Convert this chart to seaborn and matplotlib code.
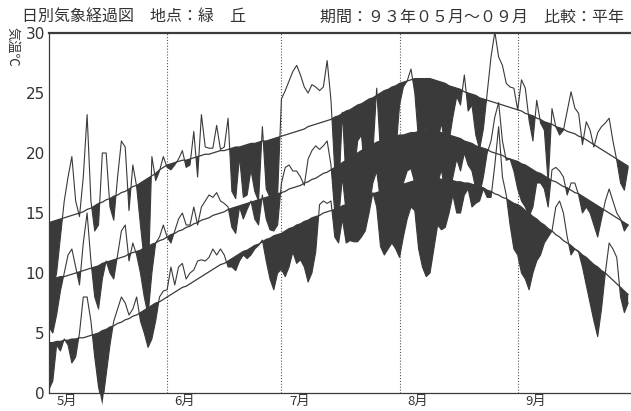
import numpy as np
import pandas as pd
import matplotlib
matplotlib.use('Agg')
import matplotlib.pyplot as plt
import seaborn as sns

# daily values, 1993-05-01 .. 1993-09-30 (153 days)
tmax = [
    9.5, 8.5, 10, 13, 16, 18, 19.7, 16, 14.7, 18, 23.2, 16, 13.5, 14, 20, 20,
    15.5, 14.4, 18, 21, 20.5, 15.2, 19, 17.2, 14, 11, 9, 19.7, 17.7, 18.5, 19.7,  # May
    18.8, 18.6, 19, 19.5, 20.2, 18.8, 19, 21.8, 18, 23.2, 20.5, 20.4, 20.4, 22.3, 20.3,
    20.5, 22.9, 16.8, 16.2, 19.7, 16.3, 16.5, 18.6, 16.8, 16, 22.2, 17, 16.3, 15.8, 16.5,  # Jun
    24.5, 25.2, 26, 26.8, 27.3, 26.5, 25.5, 25, 25.7, 25.5, 25.2, 25.5, 27.7, 24.4, 18.5, 16.5,
    23.4, 17.5, 17, 18, 21, 21.5, 18, 19, 20, 25.4, 20, 18.5, 18, 19, 20,  # Jul
    24, 25.5, 26, 27, 25, 21, 20, 22.2, 20.5, 20, 21, 22.5, 20.5, 21, 23, 24.7,
    24, 26.5, 23.5, 24, 21.5, 20.3, 22, 25, 28, 30.1, 28, 27.3, 25.8, 25.5, 25.4,  # Aug
    23.6, 26.1, 25.4, 22.7, 21, 24.4, 22.5, 21.9, 17.5, 23.7, 22.2, 21.5, 21.9, 23.5, 25.1,
    23.75, 23.3, 20.7, 22.6, 21.9, 20.5, 21.7, 22.2, 22.5, 22.9, 21, 19.4, 17.5, 16.9, 18.8,  # Sep
]
tmean = [
    5.5, 5, 6.5, 8.5, 10, 11.5, 12, 10.5, 9, 12.5, 15, 11, 8, 7, 9.5, 11,
    10, 9.5, 11.5, 13.5, 14, 11, 12.5, 11.5, 10, 8, 6.5, 10, 12.5, 13, 14,
    13, 12.5, 13.5, 14.5, 15, 14, 14, 15.5, 14, 15.5, 16, 16.5, 16.3, 16.7, 16,
    15.8, 15.5, 13.8, 13.3, 15.5, 14.5, 15.3, 16, 14.5, 14, 16.5, 14.5, 13.6, 13.5, 14,
    17.5, 18.8, 19, 18.5, 18.5, 18, 17.3, 19.5, 20.2, 20.6, 20.3, 20.6, 21, 19, 15, 14.5,
    18, 15, 14.5, 14.5, 15.5, 16, 15, 15.5, 17.5, 18.5, 16, 15, 14.5, 15, 15.5,
    16, 17.5, 18.5, 18.7, 17.5, 15.5, 14.5, 15, 15.5, 16, 17.5, 18.6, 16.5, 16.5, 18, 19.5,
    18.5, 20, 19, 18.5, 17, 16.5, 18, 20, 21, 23, 24.2, 21, 19.4, 19.5, 18.5,
    17, 16, 15.5, 14.7, 15.5, 17.5, 17.5, 17, 15.5, 18.6, 18.8, 18.5, 18, 16.5, 17.5,
    17.5, 16.5, 15, 15.5, 15, 14, 13, 14.5, 16, 17, 16, 15, 14.5, 13.5, 14,
]
tmin = [
    0.3, 1, 4, 3.5, 4.5, 4, 2.5, 3, 5, 8, 8, 6, 3, 0.5, -1, 1.5,
    4, 6, 7, 8, 7.5, 6.5, 7, 8, 6, 5, 3.8, 4.5, 6, 8, 8.5,
    8.6, 10.5, 9, 10.5, 10.8, 9.5, 10, 10.25, 11, 11.1, 11, 11.3, 12, 11.5, 12,
    11.5, 10.5, 10.5, 10.2, 11, 11.5, 11.2, 11.5, 12, 12.3, 12.75, 11, 9.5, 8.6, 10,
    10.3, 9.7, 10.5, 11.75, 10.8, 11.1, 10.5, 9.25, 10, 11.75, 15.7, 16, 15.8, 16, 13, 12.5,
    14.5, 12.5, 12.7, 12.6, 12.6, 13, 13.5, 15, 16.7, 15.5, 12.2, 11.5, 12, 12.5, 12,
    11.3, 13, 14.5, 15.5, 15.2, 12, 10.5, 9.7, 10, 12, 14, 13.6, 13.8, 15, 16.5, 15,
    15, 16.5, 17, 15.5, 15.8, 16, 17, 16.3, 16.3, 19, 22.2, 18, 16.5, 14, 12,
    11.5, 10, 9.5, 8.6, 10, 11, 11.5, 12.5, 13, 13.5, 15.5, 16, 15, 13, 11.5,
    12, 11.75, 10.5, 9, 7.5, 6, 4.7, 7, 10, 12.5, 12, 11.3, 8, 6.7, 7.5,
]

# normals (平年)
nmax = [
    14.2, 14.3, 14.4, 14.5, 14.6, 14.7, 14.8, 14.9, 15.0, 15.1, 15.3, 15.4, 15.6, 15.8, 15.9, 16.1,
    16.2, 16.4, 16.5, 16.7, 16.8, 17.0, 17.2, 17.3, 17.5, 17.7, 17.9, 18.1, 18.3, 18.6, 18.8,
    19.0, 19.1, 19.2, 19.3, 19.4, 19.4, 19.5, 19.6, 19.7, 19.8, 19.9, 19.9, 20.0, 20.1, 20.2,
    20.2, 20.3, 20.4, 20.5, 20.5, 20.6, 20.7, 20.8, 20.8, 20.9, 21.0, 21.0, 21.1, 21.2, 21.3,
    21.4, 21.5, 21.6, 21.7, 21.8, 21.9, 22.0, 22.2, 22.3, 22.4, 22.5, 22.6, 22.7, 22.8, 23.0, 23.1,
    23.3, 23.5, 23.6, 23.8, 24.0, 24.1, 24.3, 24.5, 24.6, 24.8, 25.0, 25.2, 25.3, 25.5, 25.6,
    25.8, 25.9, 26.0, 26.1, 26.2, 26.2, 26.2, 26.2, 26.2, 26.1, 26.0, 25.9, 25.8, 25.6, 25.5, 25.4,
    25.3, 25.1, 25.0, 24.9, 24.8, 24.6, 24.5, 24.4, 24.3, 24.2, 24.1, 24.0, 23.9, 23.8, 23.7,
    23.6, 23.5, 23.3, 23.2, 23.1, 22.9, 22.8, 22.6, 22.5, 22.4, 22.2, 22.1, 22.0, 21.8, 21.7,
    21.6, 21.4, 21.3, 21.1, 20.9, 20.7, 20.5, 20.3, 20.1, 19.9, 19.7, 19.5, 19.3, 19.1, 18.9,
]
nmean = [
    9.4, 9.5, 9.6, 9.7, 9.7, 9.8, 9.9, 10.0, 10.1, 10.2, 10.3, 10.4, 10.5, 10.6, 10.8, 10.9,
    11.0, 11.1, 11.2, 11.3, 11.4, 11.6, 11.7, 11.8, 11.9, 12.1, 12.2, 12.4, 12.5, 12.7, 12.8,
    13.0, 13.2, 13.3, 13.5, 13.6, 13.8, 13.9, 14.1, 14.2, 14.4, 14.5, 14.6, 14.8, 14.9, 15.0,
    15.1, 15.3, 15.4, 15.5, 15.6, 15.7, 15.8, 15.9, 16.0, 16.1, 16.2, 16.3, 16.4, 16.5, 16.6,
    16.7, 16.8, 17.0, 17.1, 17.2, 17.3, 17.5, 17.6, 17.8, 17.9, 18.1, 18.3, 18.4, 18.6, 18.8, 19.0,
    19.2, 19.4, 19.6, 19.8, 20.0, 20.2, 20.4, 20.6, 20.7, 20.9, 21.0, 21.1, 21.2, 21.3, 21.4,
    21.5, 21.5, 21.6, 21.7, 21.7, 21.8, 21.8, 21.8, 21.8, 21.8, 21.8, 21.7, 21.6, 21.5, 21.4, 21.3,
    21.2, 21.0, 20.9, 20.8, 20.6, 20.5, 20.4, 20.3, 20.1, 20.0, 19.9, 19.8, 19.6, 19.5, 19.4,
    19.3, 19.1, 19.0, 18.8, 18.6, 18.4, 18.3, 18.1, 17.9, 17.7, 17.6, 17.4, 17.2, 17.1, 16.9,
    16.7, 16.6, 16.4, 16.2, 16.0, 15.8, 15.6, 15.4, 15.2, 15.0, 14.8, 14.6, 14.4, 14.2, 14.0,
]
nmin = [
    4.2, 4.2, 4.3, 4.3, 4.4, 4.4, 4.5, 4.5, 4.6, 4.6, 4.7, 4.8, 4.9, 5.0, 5.2, 5.3,
    5.5, 5.6, 5.8, 5.9, 6.1, 6.2, 6.4, 6.5, 6.7, 6.9, 7.1, 7.3, 7.5, 7.6, 7.8,
    8.0, 8.2, 8.4, 8.6, 8.8, 8.9, 9.1, 9.3, 9.5, 9.7, 9.9, 10.1, 10.3, 10.5, 10.7,
    10.8, 11.0, 11.2, 11.4, 11.6, 11.8, 11.9, 12.1, 12.3, 12.4, 12.6, 12.8, 12.9, 13.1, 13.2,
    13.3, 13.5, 13.7, 13.8, 14.0, 14.1, 14.3, 14.4, 14.6, 14.7, 14.8, 15.0, 15.1, 15.2, 15.3, 15.4,
    15.6, 15.7, 15.8, 15.9, 16.1, 16.2, 16.3, 16.4, 16.6, 16.7, 16.8, 16.9, 17.0, 17.1, 17.2,
    17.3, 17.4, 17.5, 17.6, 17.7, 17.8, 17.9, 17.9, 17.9, 17.9, 17.9, 17.8, 17.8, 17.7, 17.7, 17.6,
    17.6, 17.5, 17.5, 17.4, 17.3, 17.2, 17.1, 16.9, 16.8, 16.6, 16.5, 16.3, 16.2, 16.0, 15.8,
    15.7, 15.5, 15.2, 15.0, 14.7, 14.5, 14.2, 14.0, 13.7, 13.5, 13.2, 13.0, 12.7, 12.5, 12.3,
    12.0, 11.8, 11.5, 11.3, 11.0, 10.7, 10.5, 10.2, 10.0, 9.7, 9.4, 9.1, 8.8, 8.5, 8.2,
]

month_labels = ['5月', '6月', '7月', '8月', '9月']
month_starts = [0, 31, 61, 92, 123]
yticks = [0, 5, 10, 15, 20, 25, 30]

sns.set_style('white')
plt.rcParams['font.family'] = ['Noto Sans CJK JP', 'DejaVu Sans']

ink = '#3a3a3a'
day = np.arange(len(tmax))
df = pd.DataFrame({'day': day, 'tmax': tmax, 'tmean': tmean, 'tmin': tmin,
                   'nmax': nmax, 'nmean': nmean, 'nmin': nmin})

fig = plt.figure(figsize=(6.31, 4.11), dpi=100)
ax = fig.add_axes([49 / 631, 18 / 411, 583 / 631, 360 / 411])
ax.set_xlim(0, 153)
ax.set_ylim(0, 30)

# below-normal days are filled black
for obs, nrm in [('tmax', 'nmax'), ('tmean', 'nmean'), ('tmin', 'nmin')]:
    ax.fill_between(df['day'], df[obs], df[nrm], where=df[obs] < df[nrm],
                    interpolate=True, color=ink, lw=0, clip_on=False, zorder=2)
    sns.lineplot(data=df, x='day', y=obs, color=ink, lw=0.8, ax=ax, zorder=3)
    sns.lineplot(data=df, x='day', y=nrm, color=ink, lw=0.9, ax=ax, zorder=3)

for m in month_starts[1:]:
    ax.axvline(m, color='#555555', ls=(0, (1, 1.6)), lw=0.8, zorder=1)

ax.spines['right'].set_visible(False)
for s in ['left', 'bottom']:
    ax.spines[s].set_color(ink)
    ax.spines[s].set_linewidth(0.9)
ax.spines['top'].set_color(ink)
ax.spines['top'].set_linewidth(1.6)

ax.set_yticks(yticks)
ax.set_yticklabels([str(v) for v in yticks], family=['Liberation Sans Narrow', 'DejaVu Sans'],
                   fontsize=11, color='#333333')
ax.tick_params(axis='y', direction='out', length=3, width=0.8, pad=0, color=ink)
ax.set_xticks(np.arange(10, 153, 10))
ax.set_xticklabels([])
ax.tick_params(axis='x', direction='in', length=3, width=0.8, color=ink)
ax.set_xlabel('')
ax.set_ylabel('')

for lab, m in zip(month_labels, month_starts):
    ax.text(m + 2, -0.2, lab, ha='left', va='top', fontsize=9.5, color='#333333')

fig.text(6 / 631, 1 - 27 / 411, '気温℃', rotation=270, ha='left', va='top',
         fontsize=9.5, color='#333333')
fig.text(22 / 631, 1 - 17 / 411, '日別気象経過図　地点：緑　丘', ha='left', va='center',
         fontsize=11.5, color='#333333')
fig.text(320 / 631, 1 - 17 / 411, '期間：９３年０５月～０９月　比較：平年', ha='left', va='center',
         fontsize=11.5, color='#333333')

fig.savefig('out.png', dpi=100)
